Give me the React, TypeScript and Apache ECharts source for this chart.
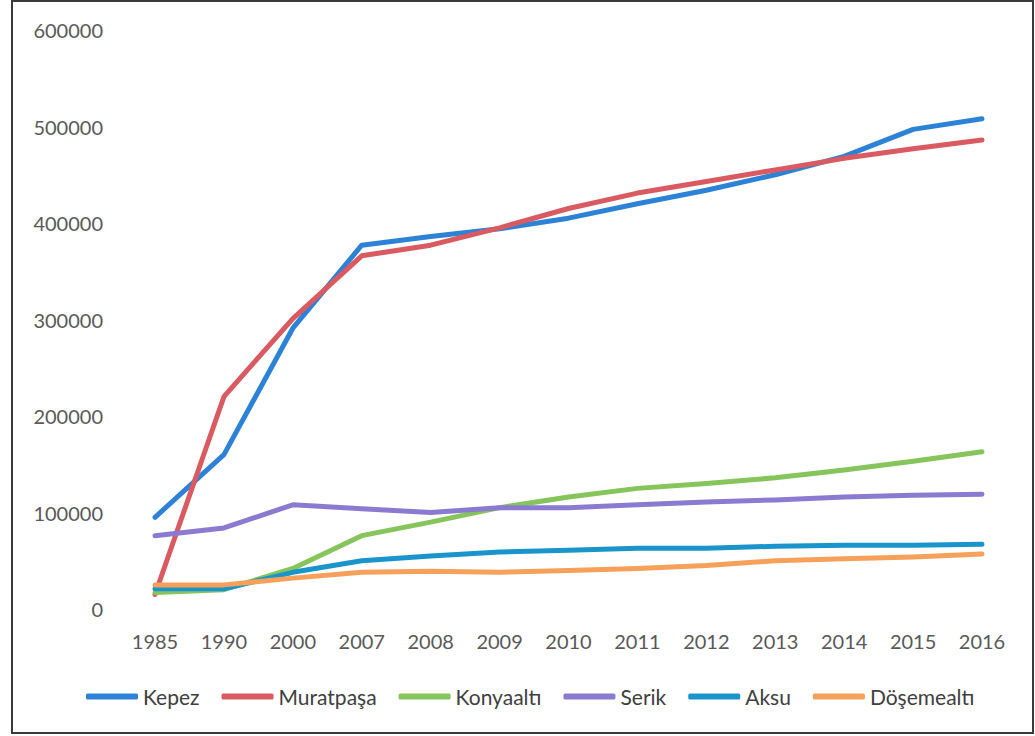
import React, { useEffect, useRef } from "react";
import * as echarts from "echarts";

const years = ["1985", "1990", "2000", "2007", "2008", "2009", "2010", "2011", "2012", "2013", "2014", "2015", "2016"];

const kepez = [95000, 160000, 291000, 377000, 386000, 394000, 405000, 420000, 434000, 450000, 469000, 497000, 508000];
const muratpasa = [15000, 220000, 301000, 366000, 377000, 395000, 415000, 431000, 443000, 455000, 467000, 477000, 486000];
const konyaalti = [17000, 20000, 42000, 76000, 90000, 105000, 116000, 125000, 130000, 136000, 144000, 153000, 163000];
const serik = [76000, 84000, 108000, 104000, 100000, 105000, 105000, 108000, 111000, 113000, 116000, 118000, 119000];
const aksu = [21000, 21000, 38000, 50000, 55000, 59000, 61000, 63000, 63000, 65000, 66000, 66000, 67000];
const dosemealti = [25000, 25000, 32000, 38000, 39000, 38000, 40000, 42000, 45000, 50000, 52000, 54000, 57000];

const seriesDefs = [
  { name: "Kepez", data: kepez, color: "#2C82D6" },
  { name: "Muratpaşa", data: muratpasa, color: "#D95A60" },
  { name: "Konyaaltı", data: konyaalti, color: "#86C55C" },
  { name: "Serik", data: serik, color: "#8A7BD0" },
  { name: "Aksu", data: aksu, color: "#1A95CC" },
  { name: "Döşemealtı", data: dosemealti, color: "#F6A05A" },
];

export default function App() {
  const ref = useRef<HTMLDivElement>(null);
  useEffect(() => {
    if (!ref.current) return;
    const chart = echarts.init(ref.current, undefined, { renderer: "svg" });
    chart.setOption({
      animation: false,
      backgroundColor: "#ffffff",
      textStyle: { fontFamily: "Lato" },
      graphic: [
        {
          type: "rect",
          shape: { x: 12, y: 1, width: 1021, height: 732 },
          style: { fill: "none", stroke: "#3a3a3a", lineWidth: 2 },
          silent: true,
        },
      ],
      grid: { left: 155, right: 53, top: 30, bottom: 127, containLabel: false },
      xAxis: {
        type: "category",
        data: years,
        boundaryGap: false,
        axisLine: { show: false },
        axisTick: { show: false },
        axisLabel: { color: "#595959", fontSize: 20, fontFamily: "Lato", margin: 22 },
        splitLine: { show: false },
      },
      yAxis: {
        type: "value",
        min: 0,
        max: 600000,
        interval: 100000,
        axisLine: { show: false },
        axisTick: { show: false },
        axisLabel: {
          color: "#595959",
          fontSize: 20,
          fontFamily: "Lato",
          margin: 52,
          formatter: (v: number) => String(v),
        },
        splitLine: { show: false },
      },
      legend: {
        top: 681,
        left: 81,
        icon: "roundRect",
        itemWidth: 52,
        itemHeight: 6,
        itemGap: 22,
        textStyle: { color: "#404040", fontSize: 21, fontFamily: "Lato" },
        data: seriesDefs.map((s) => s.name),
      },
      series: seriesDefs.map((s) => ({
        name: s.name,
        type: "line",
        data: s.data,
        color: s.color,
        showSymbol: false,
        symbol: "none",
        lineStyle: { width: 5, color: s.color, cap: "round", join: "round" },
      })),
    });
    return () => chart.dispose();
  }, []);
  return (
    <div
      ref={ref}
      style={{ position: "fixed", left: 0, top: 0, width: 1035, height: 736 }}
    />
  );
}
